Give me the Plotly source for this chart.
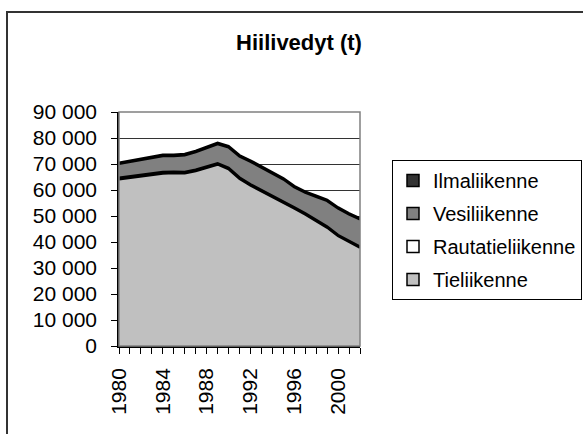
import plotly.graph_objects as go

# Data (tonnes)
years = list(range(1980, 2003))
tieliikenne = [64150, 64760, 65370, 65880, 66390, 66500, 66400, 67310, 68520, 69830, 68040, 64350,
               61760, 59570, 57280, 55390, 52900, 50610, 48120, 45530, 42340, 40050, 37860]
rautatieliikenne = [550, 540, 530, 520, 510, 500, 500, 490, 480, 470, 460, 450,
                    440, 430, 420, 410, 400, 390, 380, 370, 360, 350, 340]
vesiliikenne = [5400, 5600, 5700, 6000, 6200, 6100, 6500, 6750, 7200, 7400, 7900, 8100,
                8700, 8600, 8600, 8300, 7800, 8000, 8900, 9900, 10200, 10200, 10500]
ilmaliikenne = [400, 400, 410, 420, 430, 430, 440, 450, 460, 470, 460, 440,
                430, 420, 420, 410, 400, 400, 390, 390, 380, 380, 370]

series = [
    ("Tieliikenne", tieliikenne, "#C0C0C0"),
    ("Rautatieliikenne", rautatieliikenne, "#FFFFFF"),
    ("Vesiliikenne", vesiliikenne, "#808080"),
    ("Ilmaliikenne", ilmaliikenne, "#333333"),
]

FONT = "Liberation Sans, Arial, sans-serif"

fig = go.Figure()
for name, vals, col in series:
    fig.add_trace(go.Scatter(
        x=years, y=vals, name=name, mode="lines",
        stackgroup="one", fillcolor=col,
        line=dict(color="black", width=2.5),
        showlegend=False, hoverinfo="skip",
    ))
# square legend keys like the original, top of stack first
for name, vals, col in series[::-1]:
    fig.add_trace(go.Bar(
        x=[None], y=[None], name=name, legendgroup=name,
        marker=dict(color=col, line=dict(color="black", width=1.5)),
        hoverinfo="skip",
    ))

# plot area: x 119..360, y 112..346
L, R, T, B = 119, 223, 112, 88
W, H = 583, 434
pw, ph = W - L - R, H - T - B

fig.update_layout(
    width=W, height=H,
    margin=dict(l=L, r=R, t=T, b=B, autoexpand=False),
    paper_bgcolor="white", plot_bgcolor="white",
    font=dict(family=FONT, size=20, color="black"),
    separators=", ",
    title=dict(text="<b>Hiilivedyt (t)</b>", font=dict(size=22),
               xref="container", x=299 / W, xanchor="center",
               yref="container", y=1 - 42 / H, yanchor="middle"),
    showlegend=True,
    legend=dict(traceorder="grouped", tracegroupgap=4,
                x=(392 - L) / pw, xanchor="left", y=(H - B - 160) / ph, yanchor="top",
                bordercolor="black", borderwidth=1, bgcolor="white",
                font=dict(size=20), itemwidth=30),
    xaxis=dict(range=[1980, 2002], tickvals=years[::4], tickangle=-90,
               ticks="outside", ticklen=6, tickcolor="black", tickfont=dict(size=21),
               minor=dict(dtick=1, ticks="outside", ticklen=6, tickcolor="black"),
               showline=True, linecolor="black", linewidth=1.5,
               showgrid=False, zeroline=False, ticklabelstandoff=6, automargin=False),
    yaxis=dict(range=[0, 90000], dtick=10000, tickformat=",d", tickfont=dict(size=21),
               ticks="outside", ticklen=6, tickcolor="black", ticklabelstandoff=10,
               showline=True, linecolor="black", linewidth=1.5,
               showgrid=True, gridcolor="#333333", gridwidth=1,
               zeroline=False, layer="below traces", automargin=False),
    shapes=[
        # plot area frame (grey top/right)
        dict(type="rect", xref="x domain", yref="y domain", x0=0, x1=1, y0=0, y1=1,
             line=dict(color="#808080", width=1.5), layer="above"),
        # outer chart border
        dict(type="rect", xref="paper", yref="paper",
             x0=(7 - L) / pw, x1=(W + 20 - L) / pw,
             y0=-(B + 20) / ph, y1=(H - B - 12) / ph,
             line=dict(color="#333333", width=2), layer="below"),
    ],
)

fig.write_html("out.html", config={"displayModeBar": False},
               post_script="document.body.style.margin='0';")
